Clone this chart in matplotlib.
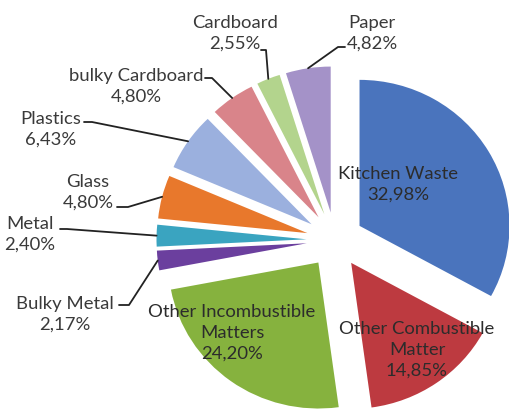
import numpy as np
import matplotlib
matplotlib.use("Agg")
import matplotlib.pyplot as plt

plt.rcParams['font.family'] = ['Lato', 'DejaVu Sans']

# waste composition (clockwise from 12 o'clock)
labels = ["Kitchen Waste", "Other Combustible\nMatter", "Other Incombustible\nMatters",
          "Bulky Metal", "Metal", "Glass", "Plastics", "bulky Cardboard", "Cardboard", "Paper"]
shares = [32.98, 14.85, 24.20, 2.17, 2.40, 4.80, 6.43, 4.80, 2.55, 4.82]
colors = ["#4a74bd", "#bd3a40", "#86b23e", "#6b3f9e", "#3aa4c0",
          "#e8782c", "#9bb0de", "#d9848a", "#b3d48d", "#a492c8"]


def pct(v):
    return f"{v:.2f}%".replace(".", ",")


fig = plt.figure(figsize=(5.10, 4.11), dpi=100)
ax = fig.add_axes([0, 0, 1, 1])

wedges, _ = ax.pie(shares, colors=colors, startangle=90, counterclock=False,
                   explode=[0.19] * len(shares), radius=1.0,
                   wedgeprops=dict(linewidth=0))

# pixel layout: centre at (335, 240), 150 px per unit in x, 146 px per unit in y
SX, SY = 150, 146
ax.set_aspect('auto')
ax.set_xlim(-335 / SX, (510 - 335) / SX)
ax.set_ylim(-(411 - 240) / SY, 240 / SY)
ax.axis('off')


def px(x, y):
    return (x - 335) / SX, (240 - y) / SY


def outer_mid(w):
    a = np.deg2rad((w.theta1 + w.theta2) / 2)
    cx, cy = w.center
    return cx + w.r * np.cos(a), cy + w.r * np.sin(a)


txt = "#3a3a3a"
fs = 13.3
ls = 1.38

# labels inside the three big slices
inside = {0: (398, 184), 1: (417, 350), 2: (232, 333)}
for i, (x, y) in inside.items():
    ax.text(*px(x, y), labels[i] + "\n" + pct(shares[i]), ha="center", va="center",
            fontsize=fs, color="#2c2c2c", linespacing=ls)

# outside labels: text centre, leader start, leader elbow
outside = {
    9: ((372, 33), (345, 47), (338, 47)),
    8: ((235, 33), (261, 50), (266, 50)),
    7: ((136, 86), (205, 78), (212, 78)),
    6: ((51, 129), (84, 122), (92, 122)),
    5: ((88, 192), (117, 207), (128, 207)),
    4: ((30, 234), (60, 229), (67, 229)),
    3: ((65, 314), (119, 305), (129, 305)),
}
for i, (tpos, start, elbow) in outside.items():
    ax.text(*px(*tpos), labels[i] + "\n" + pct(shares[i]), ha="center", va="center",
            fontsize=fs, color=txt, linespacing=ls)
    tx, ty = outer_mid(wedges[i])
    x0, y0 = px(*start)
    x1, y1 = px(*elbow)
    ax.plot([x0, x1, tx], [y0, y1, ty], color="#222222", lw=1.3, solid_capstyle="round")

fig.savefig("out.png", dpi=100)
